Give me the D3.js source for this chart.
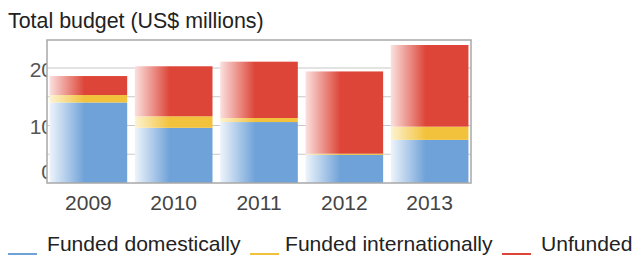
<!DOCTYPE html>
<html lang="en">
<head>
    <meta charset="UTF-8">
    <title>Total budget</title>
    <style>
        body { margin: 0; background: #fff; }
        svg text { font-family: "Liberation Sans", Arial, sans-serif; }
    </style>
</head>
<body>
    <svg id="chart" width="634" height="257"></svg>
    <script src="https://d3js.org/d3.v7.min.js"></script>
    <script>
        const years = ['2009', '2010', '2011', '2012', '2013'];
        const fundedDomestic = [14.0, 9.6, 10.6, 4.9, 7.5];
        const fundedIntl = [1.3, 2.0, 0.7, 0.2, 2.3];
        const unfunded = [3.3, 8.7, 9.8, 14.3, 14.2];
        const yTicks = [0, 10, 20];
        const gridTicks = [5, 10, 15, 20];
        const seriesNames = ['Funded domestically', 'Funded internationally', 'Unfunded'];
        const seriesColors = ['#6fa2d8', '#f2c23c', '#dd4538'];
        const lightColors = ['#eef4fb', '#fdf3d2', '#fbe0de'];

        const svg = d3.select('#chart');
        const plot = {left: 47, right: 471, top: 40, bottom: 183};

        const x = d3.scaleBand()
            .domain(years)
            .range([plot.left, plot.right])
            .paddingInner(0.09)
            .paddingOuter(0.03);

        const y = d3.scaleLinear()
            .domain([0, 25])
            .range([plot.bottom, plot.top - 0.75]);

        // gradients, light on the left side of each bar
        const defs = svg.append('defs');
        seriesColors.forEach(function (c, i) {
            const g = defs.append('linearGradient')
                .attr('id', 'grad' + i)
                .attr('x1', '0%').attr('x2', '100%')
                .attr('y1', '0%').attr('y2', '0%');
            g.append('stop').attr('offset', '0%').attr('stop-color', lightColors[i]);
            g.append('stop').attr('offset', '45%').attr('stop-color', c);
            g.append('stop').attr('offset', '100%').attr('stop-color', c);
        });

        svg.append('text')
            .attr('x', 8).attr('y', 28)
            .attr('font-size', 21.4)
            .attr('fill', '#222')
            .text('Total budget (US$ millions)');

        // y labels sit partly under the plot area, as in the original
        svg.append('g')
            .attr('transform', 'translate(' + (plot.left + 6) + ',0)')
            .call(d3.axisLeft(y).tickValues(yTicks).tickSize(0).tickPadding(0))
            .call(g => g.select('.domain').remove())
            .selectAll('text')
            .attr('font-size', 21)
            .attr('fill', '#555')
            .attr('dy', function (d) { return d === 0 ? '-0.2em' : '0.4em'; });

        svg.append('rect')
            .attr('x', plot.left).attr('y', plot.top)
            .attr('width', plot.right - plot.left)
            .attr('height', plot.bottom - plot.top)
            .attr('fill', '#fff');

        svg.append('g')
            .selectAll('line')
            .data(gridTicks)
            .join('line')
            .attr('x1', plot.left).attr('x2', plot.right)
            .attr('y1', d => y(d)).attr('y2', d => y(d))
            .attr('stroke', '#c8c8c8')
            .attr('stroke-width', 1.2);

        const stacked = d3.stack().keys([0, 1, 2])(
            years.map((yr, i) => ({0: fundedDomestic[i], 1: fundedIntl[i], 2: unfunded[i], year: yr}))
        );

        svg.append('g')
            .selectAll('g')
            .data(stacked)
            .join('g')
            .attr('fill', (d, i) => 'url(#grad' + i + ')')
            .selectAll('rect')
            .data(d => d)
            .join('rect')
            .attr('x', d => x(d.data.year))
            .attr('width', x.bandwidth())
            .attr('y', d => y(d[1]))
            .attr('height', d => y(d[0]) - y(d[1]));

        svg.append('rect')
            .attr('x', plot.left).attr('y', plot.top)
            .attr('width', plot.right - plot.left)
            .attr('height', plot.bottom - plot.top)
            .attr('fill', 'none')
            .attr('stroke', '#a8a8a8')
            .attr('stroke-width', 1.5);

        svg.append('g')
            .attr('transform', 'translate(0,' + plot.bottom + ')')
            .call(d3.axisBottom(x).tickSize(0).tickPadding(12))
            .call(g => g.select('.domain').remove())
            .selectAll('text')
            .attr('font-size', 21)
            .attr('fill', '#444');

        // legend
        const legendX = [8, 250, 502];
        const legend = svg.append('g')
            .selectAll('g')
            .data(seriesNames)
            .join('g')
            .attr('transform', (d, i) => 'translate(' + legendX[i] + ',0)');
        legend.append('line')
            .attr('x1', 0).attr('x2', 29)
            .attr('y1', 254).attr('y2', 254)
            .attr('stroke', (d, i) => seriesColors[i])
            .attr('stroke-width', 2);
        legend.append('text')
            .attr('x', (d, i) => i === 0 ? 39 : (i === 1 ? 35 : 39))
            .attr('y', 251)
            .attr('font-size', 21.1)
            .attr('fill', '#222')
            .text(d => d);
    </script>
</body>
</html>
